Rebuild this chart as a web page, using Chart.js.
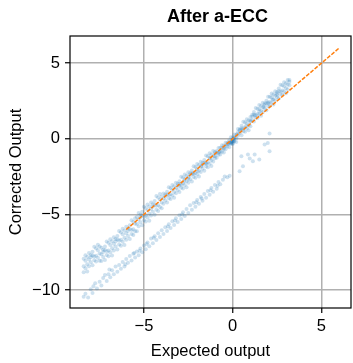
<!DOCTYPE html>
<html>
<head>
<meta charset="utf-8">
<script src="https://cdn.jsdelivr.net/npm/chart.js@4/dist/chart.umd.min.js"></script>
<style>
html,body{margin:0;padding:0;background:#fff;}
#wrap{width:353px;height:363px;}
</style>
</head>
<body>
<div id="wrap"><canvas id="c" width="353" height="363"></canvas></div>
<script>
// ---- data ----
const titleText = 'After a-ECC';
const xLabel = 'Expected output';
const yLabel = 'Corrected Output';
const xTicks = [-5, 0, 5];
const yTicks = [-10, -5, 0, 5];
const xRange = [-9.17, 6.67];
const yRange = [-11.19, 6.8];

// reference line y = x (dashed orange)
const refX = [-6, 6];
const refY = [-6, 6];

// main band: x positions, three readings of y per x
const mainX = [-8.4,-8.3,-8.2,-8.1,-8.0,-7.9,-7.8,-7.7,-7.6,-7.5,-7.4,-7.3,-7.2,-7.1,-7.0,-6.9,-6.8,-6.7,-6.6,-6.5,-6.4,-6.3,-6.2,-6.1,-6.0,-5.9,-5.8,-5.7,-5.6,-5.5,-5.4,-5.3,-5.2,-5.1,-5.0,-4.9,-4.8,-4.7,-4.6,-4.5,-4.4,-4.3,-4.2,-4.1,-4.0,-3.9,-3.8,-3.7,-3.6,-3.5,-3.4,-3.3,-3.2,-3.1,-3.0,-2.9,-2.8,-2.7,-2.6,-2.5,-2.4,-2.3,-2.2,-2.1,-2.0,-1.9,-1.8,-1.7,-1.6,-1.5,-1.4,-1.3,-1.2,-1.1,-1.0,-0.9,-0.8,-0.7,-0.6,-0.5,-0.4,-0.3,-0.2,-0.1,0.0,0.1,0.2,0.3,0.4,0.5,0.6,0.7,0.8,0.9,1.0,1.1,1.2,1.3,1.4,1.5,1.6,1.7,1.8,1.9,2.0,2.1,2.2,2.3,2.4,2.5,2.6,2.7,2.8,2.9,3.0,3.1,3.2];
const mainYa = [-7.93,-8.07,-8.29,-7.99,-7.68,-8.37,-7.78,-7.23,-7.37,-7.59,-7.64,-7.33,-8.02,-7.43,-6.88,-7.02,-7.24,-6.94,-6.63,-7.32,-6.73,-6.18,-6.32,-6.54,-6.24,-5.93,-6.62,-6.03,-5.48,-5.62,-5.64,-5.34,-5.03,-5.72,-5.13,-4.58,-4.72,-4.94,-4.64,-4.33,-5.02,-4.43,-3.88,-4.02,-4.21,-3.95,-3.68,-4.22,-3.72,-3.26,-3.36,-3.51,-3.25,-2.98,-3.52,-3.02,-2.56,-2.66,-2.81,-2.55,-2.28,-2.82,-2.32,-1.86,-1.96,-2.11,-1.85,-1.58,-2.12,-1.62,-1.16,-1.26,-1.41,-1.15,-0.88,-1.26,-0.92,-0.59,-0.61,-0.67,-0.47,-0.27,-0.56,-0.22,0.11,0.09,0.03,0.43,0.64,0.24,0.68,1.09,1.03,0.90,1.14,1.59,1.14,1.58,1.99,1.98,1.85,2.09,2.34,1.89,2.33,2.79,2.73,2.60,2.84,3.09,2.69,3.13,3.54,3.48,3.35,3.59,3.89];
const mainYb = [-8.43,-7.70,-7.82,-8.43,-8.17,-7.71,-8.04,-7.73,-7.00,-7.12,-8.08,-7.82,-7.36,-7.69,-7.38,-6.65,-6.77,-7.38,-7.12,-6.66,-6.99,-6.68,-5.95,-6.07,-6.68,-6.42,-5.96,-6.29,-5.98,-5.25,-5.17,-5.78,-5.52,-5.06,-5.39,-5.08,-4.35,-4.47,-5.08,-4.82,-4.36,-4.69,-4.38,-3.65,-3.84,-4.30,-4.08,-3.69,-3.93,-3.66,-3.06,-3.14,-3.60,-3.38,-2.99,-3.23,-2.96,-2.36,-2.44,-2.90,-2.68,-2.29,-2.53,-2.26,-1.66,-1.74,-2.20,-1.98,-1.59,-1.83,-1.56,-0.96,-1.04,-1.50,-1.28,-0.93,-1.05,-0.84,-0.43,-0.44,-0.69,-0.51,-0.23,-0.35,-0.14,0.28,0.27,0.21,0.39,0.70,0.50,0.74,1.29,1.23,0.83,1.25,1.60,1.40,1.64,2.24,2.18,1.78,2.00,2.35,2.15,2.44,2.99,2.93,2.53,2.75,3.15,2.95,3.19,3.74,3.68,3.28,3.55];
const mainYc = [-8.82,-8.56,-8.77,-7.56,-7.84,-7.47,-7.14,-8.12,-7.86,-8.07,-7.21,-7.49,-7.12,-6.79,-7.77,-7.51,-7.72,-6.51,-6.79,-6.42,-6.09,-7.07,-6.81,-7.02,-5.81,-6.09,-5.72,-5.39,-6.37,-6.11,-6.12,-4.91,-5.19,-4.82,-4.49,-5.47,-5.21,-5.42,-4.21,-4.49,-4.12,-3.79,-4.77,-4.51,-4.60,-3.61,-3.81,-3.50,-3.21,-3.98,-3.75,-3.90,-2.91,-3.11,-2.80,-2.51,-3.28,-3.05,-3.20,-2.21,-2.41,-2.10,-1.81,-2.58,-2.35,-2.50,-1.51,-1.71,-1.40,-1.11,-1.88,-1.65,-1.80,-0.81,-1.01,-0.81,-0.60,-1.04,-0.86,-0.91,-0.26,-0.35,-0.11,0.11,-0.34,-0.16,-0.21,0.65,0.56,0.87,1.13,0.47,0.68,0.57,1.44,1.48,1.77,2.03,1.37,1.63,1.52,2.39,2.23,2.52,2.78,2.17,2.38,2.27,3.14,2.98,3.32,3.58,2.92,3.13,3.02,3.89,3.78];

// denser core of the main band
const coreX = [-3.0,-2.75,-2.5,-2.25,-2.0,-1.75,-1.5,-1.25,-1.0,-0.75,-0.5,-0.25,-0.15,-0.1,-0.07,-0.05,0.0,0.0,0.02,0.03,0.05,0.08,0.1,0.25,0.5,0.75,1.0,1.25,1.5,1.75,2.0,2.25,2.5];
const coreY = [-3.1,-2.8,-2.65,-2.3,-2.15,-1.8,-1.65,-1.3,-1.15,-0.85,-0.6,-0.35,-0.3,-0.25,-0.26,-0.15,-0.05,-0.3,-0.2,-0.1,0.0,-0.15,0.05,0.3,0.6,0.85,1.2,1.55,1.8,2.1,2.4,2.6,2.9];

// lower (offset) band
const lowX = [-8.4,-8.3,-8.15,-8.0,-7.9,-7.85,-7.75,-7.65,-7.5,-7.4,-7.3,-7.2,-7.1,-7.0,-6.95,-6.9,-6.8,-6.7,-6.6,-6.5,-6.4,-6.3,-6.2,-6.1,-6.05,-6.0,-5.9,-5.8,-5.7,-5.6,-5.55,-5.5,-5.4,-5.3,-5.25,-5.2,-5.1,-5.0,-4.9,-4.85,-4.8,-4.7,-4.6,-4.5,-4.45,-4.4,-4.3,-4.2,-4.1,-4.0,-3.9,-3.8,-3.7,-3.65,-3.6,-3.5,-3.4,-3.3,-3.25,-3.2,-3.1,-3.0,-2.9,-2.85,-2.8,-2.7,-2.6,-2.5,-2.4,-2.3,-2.2,-2.1,-2.05,-2.0,-1.9,-1.8,-1.75,-1.7,-1.6,-1.5,-1.4,-1.3,-1.25,-1.2,-1.1,-1.0,-0.9,-0.85,-0.8,-0.7,-0.55,-0.45,-0.3,-0.17];
const lowY = [-10.45,-10.25,-10.5,-9.95,-10.2,-9.75,-9.55,-9.9,-9.45,-9.7,-9.2,-9.0,-9.4,-8.95,-8.65,-9.15,-8.7,-8.95,-8.45,-8.8,-8.35,-8.6,-8.15,-8.45,-8.3,-7.95,-8.2,-7.75,-8.05,-7.6,-7.55,-7.85,-7.45,-7.7,-7.4,-7.25,-7.5,-7.05,-7.3,-6.95,-6.85,-7.1,-6.6,-6.9,-6.55,-6.45,-6.7,-6.25,-6.5,-6.05,-6.3,-5.85,-6.1,-5.8,-5.65,-5.9,-5.45,-5.7,-5.4,-5.25,-5.5,-5.05,-5.3,-5.0,-4.85,-5.1,-4.65,-4.9,-4.4,-4.7,-4.25,-4.5,-4.2,-4.05,-4.3,-3.85,-3.95,-4.1,-3.65,-3.9,-3.45,-3.7,-3.4,-3.25,-3.5,-3.05,-3.3,-3.1,-2.85,-3.0,-2.7,-2.5,-2.55,-2.45];

// sparse points right of zero, below the line
const strayX = [0.39,0.49,0.58,0.86,0.96,1.14,1.24,1.5,1.8,1.98,2.08,2.08];
const strayY = [-2.14,-1.15,-1.81,-1.04,-1.3,-1.48,-1.04,-1.37,-0.38,-0.27,-0.82,0.35];

// ---- build chart ----
function pts(xs, ys){ return xs.map((x,i)=>({x:x, y:ys[i]})); }
const mainPts = [].concat(pts(mainX, mainYa), pts(mainX, mainYb), pts(mainX, mainYc));
const FONT = 'Arial, "Liberation Sans", Helvetica, sans-serif';
const dotColor = 'rgba(31,119,180,0.22)';
const fmt = v => (v < 0 ? '\u2212' + Math.abs(v) : String(v));
const dotStyle = {type:'scatter', pointRadius:2, pointBorderWidth:0, pointBackgroundColor:dotColor, backgroundColor:dotColor, borderColor:dotColor, showLine:false, pointHoverRadius:2};

// frame around the plot area and the title centred over it
const framePlugin = {
  id:'frame',
  afterDatasetsDraw(chart){
    const {ctx, chartArea:a} = chart;
    ctx.save();
    ctx.strokeStyle = '#000';
    ctx.lineWidth = 1.2;
    ctx.strokeRect(a.left, a.top, a.right - a.left, a.bottom - a.top);
    ctx.fillStyle = '#000';
    ctx.font = 'bold 18px ' + FONT;
    ctx.textAlign = 'center';
    ctx.textBaseline = 'middle';
    ctx.fillText(titleText, (a.left + a.right) / 2 + 7, 17);
    ctx.restore();
  }
};

new Chart(document.getElementById('c'), {
  type:'scatter',
  data:{
    datasets:[
      {type:'line', data:pts(refX, refY), borderColor:'#ff7f0e', borderWidth:1.5, borderDash:[4,1.5], pointRadius:0, fill:false, showLine:true, tension:0},
      Object.assign({data:mainPts}, dotStyle),
      Object.assign({data:pts(coreX, coreY)}, dotStyle),
      Object.assign({data:pts(lowX, lowY)}, dotStyle),
      Object.assign({data:pts(strayX, strayY)}, dotStyle)
    ]
  },
  options:{
    responsive:false,
    devicePixelRatio:1,
    animation:false,
    events:[],
    layout:{padding:{left:0, right:1, top:36, bottom:0}},
    plugins:{
      legend:{display:false},
      tooltip:{enabled:false},
      title:{display:false}
    },
    scales:{
      x:{
        type:'linear', position:'bottom', min:xRange[0], max:xRange[1],
        afterBuildTicks:s=>{ s.ticks = xTicks.map(v=>({value:v})); },
        afterFit:s=>{ s.height = 55; },
        ticks:{callback:fmt, color:'#000', font:{family:FONT, size:16.5}, padding:4, maxRotation:0, autoSkip:false},
        grid:{color:'#b0b0b0', lineWidth:1.5, tickLength:5, tickColor:'#000', tickWidth:1.2},
        border:{display:false},
        title:{display:true, text:xLabel, color:'#000', font:{family:FONT, size:16.5}, padding:{top:0, bottom:2}}
      },
      y:{
        type:'linear', position:'left', min:yRange[0], max:yRange[1],
        afterBuildTicks:s=>{ s.ticks = yTicks.map(v=>({value:v})); },
        afterFit:s=>{ s.width = 70; },
        ticks:{callback:fmt, color:'#000', font:{family:FONT, size:16.5}, padding:5, autoSkip:false},
        grid:{color:'#b0b0b0', lineWidth:1.5, tickLength:5, tickColor:'#000', tickWidth:1.2},
        border:{display:false},
        title:{display:true, text:yLabel, color:'#000', font:{family:FONT, size:16.5}, padding:{top:7, bottom:0}}
      }
    }
  },
  plugins:[framePlugin]
});
</script>
</body>
</html>
